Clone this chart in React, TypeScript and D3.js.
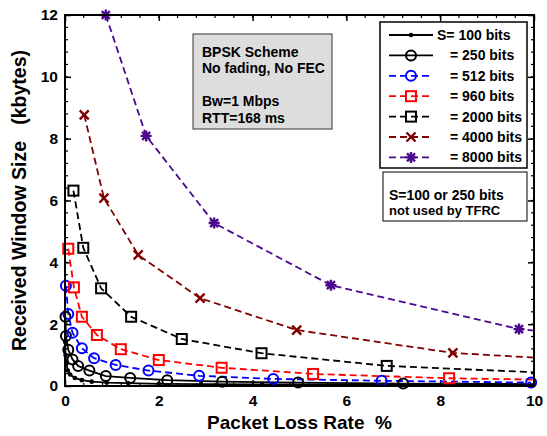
import React, { useEffect, useRef } from 'react';
import * as d3 from 'd3';

// axis ticks
const lossTicks = [0, 2, 4, 6, 8, 10];
const windowTicks = [0, 2, 4, 6, 8, 10, 12];

// packet loss rate (%) / received window (kbytes) per packet size
const loss100 = [0.004, 0.01, 0.03, 0.06, 0.11, 0.21, 0.36, 0.57, 0.89, 1.35, 2.0, 2.9, 4.2, 6.0, 8.4, 11.5];
const win100 = [1.42, 1.0, 0.72, 0.5, 0.37, 0.26, 0.19, 0.14, 0.11, 0.09, 0.07, 0.06, 0.05, 0.04, 0.035, 0.03];

const loss250 = [0.01, 0.02, 0.07, 0.16, 0.28, 0.52, 0.87, 1.39, 2.18, 3.35, 4.97, 7.21, 10.5];
const win250 = [2.24, 1.62, 1.17, 0.86, 0.65, 0.5, 0.32, 0.26, 0.19, 0.14, 0.11, 0.08, 0.06];

const loss512 = [0.02, 0.07, 0.16, 0.36, 0.62, 1.08, 1.78, 2.86, 4.44, 6.75, 9.94];
const win512 = [3.24, 2.33, 1.72, 1.22, 0.9, 0.68, 0.5, 0.33, 0.23, 0.17, 0.11];

const loss960 = [0.07, 0.19, 0.36, 0.68, 1.19, 2.0, 3.34, 5.29, 8.19, 12.5];
const win960 = [4.44, 3.19, 2.24, 1.65, 1.19, 0.84, 0.59, 0.39, 0.25, 0.15];

const loss2000 = [0.18, 0.39, 0.77, 1.41, 2.49, 4.19, 6.86, 11.0];
const win2000 = [6.32, 4.47, 3.16, 2.24, 1.52, 1.06, 0.65, 0.38];

const loss4000 = [0.41, 0.83, 1.56, 2.88, 4.94, 8.27, 12.5];
const win4000 = [8.77, 6.08, 4.24, 2.84, 1.81, 1.07, 0.7];

const loss8000 = [0.87, 1.73, 3.18, 5.67, 9.68, 14];
const win8000 = [12.0, 8.09, 5.27, 3.26, 1.84, 1.2];

const seriesLabels = ['S= 100 bits', '= 250 bits', '= 512 bits', '= 960 bits', '= 2000 bits', '= 4000 bits', '= 8000 bits'];
const seriesColors = ['#000000', '#000000', '#0000ff', '#ff0000', '#000000', '#800000', '#4b0a8c'];
const seriesDashed = [false, false, true, true, true, true, true];
const seriesMarkers = ['dot', 'circle', 'circle', 'square', 'square', 'x', 'star'];
const seriesLoss = [loss100, loss250, loss512, loss960, loss2000, loss4000, loss8000];
const seriesWin = [win100, win250, win512, win960, win2000, win4000, win8000];

const infoLines = ['BPSK Scheme', 'No fading, No FEC', '', 'Bw=1 Mbps', 'RTT=168 ms'];
const noteLines = ['S=100 or 250 bits', 'not used by TFRC'];

const FONT = '"Liberation Sans", Arial, sans-serif';

function drawMarker(g: any, kind: string, color: string, cx: number, cy: number) {
  if (kind === 'dot') {
    g.append('circle').attr('cx', cx).attr('cy', cy).attr('r', 2.3).attr('fill', color);
  } else if (kind === 'circle') {
    g.append('circle').attr('cx', cx).attr('cy', cy).attr('r', 5)
      .attr('fill', 'none').attr('stroke', color).attr('stroke-width', 2);
  } else if (kind === 'square') {
    g.append('rect').attr('x', cx - 5).attr('y', cy - 5).attr('width', 10).attr('height', 10)
      .attr('fill', 'none').attr('stroke', color).attr('stroke-width', 2);
  } else if (kind === 'x') {
    const s = 4.5;
    g.append('path').attr('d', `M${cx - s},${cy - s}L${cx + s},${cy + s}M${cx - s},${cy + s}L${cx + s},${cy - s}`)
      .attr('stroke', color).attr('stroke-width', 2.4).attr('fill', 'none');
  } else {
    const s = 5.5, d = 4;
    g.append('path').attr('d', `M${cx - s},${cy}L${cx + s},${cy}M${cx},${cy - s}L${cx},${cy + s}` +
      `M${cx - d},${cy - d}L${cx + d},${cy + d}M${cx - d},${cy + d}L${cx + d},${cy - d}`)
      .attr('stroke', color).attr('stroke-width', 2.4).attr('fill', 'none');
  }
}

const App: React.FC = () => {
  const svgRef = useRef<SVGSVGElement>(null);

  useEffect(() => {
    if (!svgRef.current) return;
    const svg = d3.select(svgRef.current);
    svg.selectAll('*').remove();

    const left = 65, right = 534, top = 15, bottom = 386;
    const x = d3.scaleLinear().domain([0, 10]).range([left, right]);
    const y = d3.scaleLinear().domain([0, 12]).range([bottom, top]);

    svg.append('defs').append('clipPath').attr('id', 'plotclip')
      .append('rect').attr('x', left).attr('y', top).attr('width', right - left).attr('height', bottom - top);

    // minor ticks
    const minorX = d3.range(0, 10.01, 0.4);
    const minorY = d3.range(0, 12.01, 0.4);
    const tickG = svg.append('g').attr('stroke', '#000').attr('stroke-width', 1.2);
    minorX.forEach(v => {
      tickG.append('line').attr('x1', x(v)).attr('x2', x(v)).attr('y1', bottom).attr('y2', bottom - 3);
      tickG.append('line').attr('x1', x(v)).attr('x2', x(v)).attr('y1', top).attr('y2', top + 3);
    });
    minorY.forEach(v => {
      tickG.append('line').attr('y1', y(v)).attr('y2', y(v)).attr('x1', left).attr('x2', left + 3);
      tickG.append('line').attr('y1', y(v)).attr('y2', y(v)).attr('x1', right).attr('x2', right - 3);
    });

    // major axes
    const axisStyle = (g: any) => {
      g.select('.domain').remove();
      g.selectAll('line').attr('stroke', '#000').attr('stroke-width', 1.5);
      g.selectAll('text').attr('font-family', FONT).attr('font-weight', 'bold').attr('font-size', 15.5).attr('fill', '#000');
    };
    svg.append('g').attr('transform', `translate(0,${bottom})`)
      .call(d3.axisBottom(x).tickValues(lossTicks).tickSize(-6).tickSizeOuter(0).tickPadding(9).tickFormat(d3.format('d')))
      .call(axisStyle);
    svg.append('g').attr('transform', `translate(0,${top})`)
      .call(d3.axisTop(x).tickValues(lossTicks).tickSize(-6).tickSizeOuter(0).tickFormat(() => ''))
      .call(axisStyle);
    svg.append('g').attr('transform', `translate(${left},0)`)
      .call(d3.axisLeft(y).tickValues(windowTicks).tickSize(-6).tickSizeOuter(0).tickPadding(7).tickFormat(d3.format('d')))
      .call(axisStyle);
    svg.append('g').attr('transform', `translate(${right},0)`)
      .call(d3.axisRight(y).tickValues(windowTicks).tickSize(-6).tickSizeOuter(0).tickFormat(() => ''))
      .call(axisStyle);

    // series
    const line = d3.line<[number, number]>().x(d => x(d[0])).y(d => y(d[1]));
    const lineG = svg.append('g').attr('clip-path', 'url(#plotclip)');
    const markG = svg.append('g');
    seriesLoss.forEach((xs, i) => {
      const pts: [number, number][] = xs.map((v, j) => [v, seriesWin[i][j]]);
      lineG.append('path').attr('d', line(pts)).attr('fill', 'none')
        .attr('stroke', seriesColors[i]).attr('stroke-width', 1.8)
        .attr('stroke-dasharray', seriesDashed[i] ? '7,4' : null);
      pts.filter(p => p[0] <= 10).forEach(p => drawMarker(markG, seriesMarkers[i], seriesColors[i], x(p[0]), y(p[1])));
    });

    // plot frame
    svg.append('rect').attr('x', left).attr('y', top).attr('width', right - left).attr('height', bottom - top)
      .attr('fill', 'none').attr('stroke', '#000').attr('stroke-width', 2);

    // info box
    svg.append('rect').attr('x', 193).attr('y', 34).attr('width', 139).attr('height', 95)
      .attr('fill', '#dddddd').attr('stroke', '#333').attr('stroke-width', 1);
    infoLines.forEach((t, i) => {
      svg.append('text').attr('x', 202).attr('y', 57 + i * 16.4).text(t)
        .attr('font-family', FONT).attr('font-weight', 'bold').attr('font-size', 14);
    });

    // legend
    svg.append('rect').attr('x', 380).attr('y', 22).attr('width', 147).attr('height', 146)
      .attr('fill', '#fff').attr('stroke', '#000').attr('stroke-width', 1.5);
    seriesLabels.forEach((lab, i) => {
      const cy = 35 + i * 20.4;
      svg.append('line').attr('x1', 389).attr('x2', 433).attr('y1', cy).attr('y2', cy)
        .attr('stroke', seriesColors[i]).attr('stroke-width', 1.8)
        .attr('stroke-dasharray', seriesDashed[i] ? '7,4' : null);
      drawMarker(svg, seriesMarkers[i], seriesColors[i], 411, cy);
      svg.append('text').attr('x', i === 0 ? 437 : 450).attr('y', cy + 5).text(lab)
        .attr('font-family', FONT).attr('font-weight', 'bold').attr('font-size', 14);
    });

    // note box
    svg.append('rect').attr('x', 383).attr('y', 172).attr('width', 144).attr('height', 49)
      .attr('fill', '#fff').attr('stroke', '#000').attr('stroke-width', 1);
    noteLines.forEach((t, i) => {
      svg.append('text').attr('x', 389).attr('y', 200 + i * 14.5).text(t)
        .attr('font-family', FONT).attr('font-weight', 'bold').attr('font-size', i === 0 ? 14 : 13);
    });

    // axis titles
    svg.append('text').attr('x', (left + right) / 2).attr('y', 429).attr('text-anchor', 'middle')
      .attr('font-family', FONT).attr('font-weight', 'bold').attr('font-size', 19)
      .style('white-space', 'pre')
      .text('Packet Loss Rate  %');
    svg.append('text').attr('transform', `translate(26,${(top + bottom) / 2}) rotate(-90)`)
      .attr('text-anchor', 'middle')
      .attr('font-family', FONT).attr('font-weight', 'bold').attr('font-size', 19.5)
      .style('white-space', 'pre')
      .text('Received Window Size   (kbytes)');
  }, []);

  return (
    <div style={{ position: 'absolute', left: 0, top: 0 }}>
      <svg ref={svgRef} width={547} height={436} style={{ display: 'block', background: '#fff' }} />
    </div>
  );
};

export default App;
